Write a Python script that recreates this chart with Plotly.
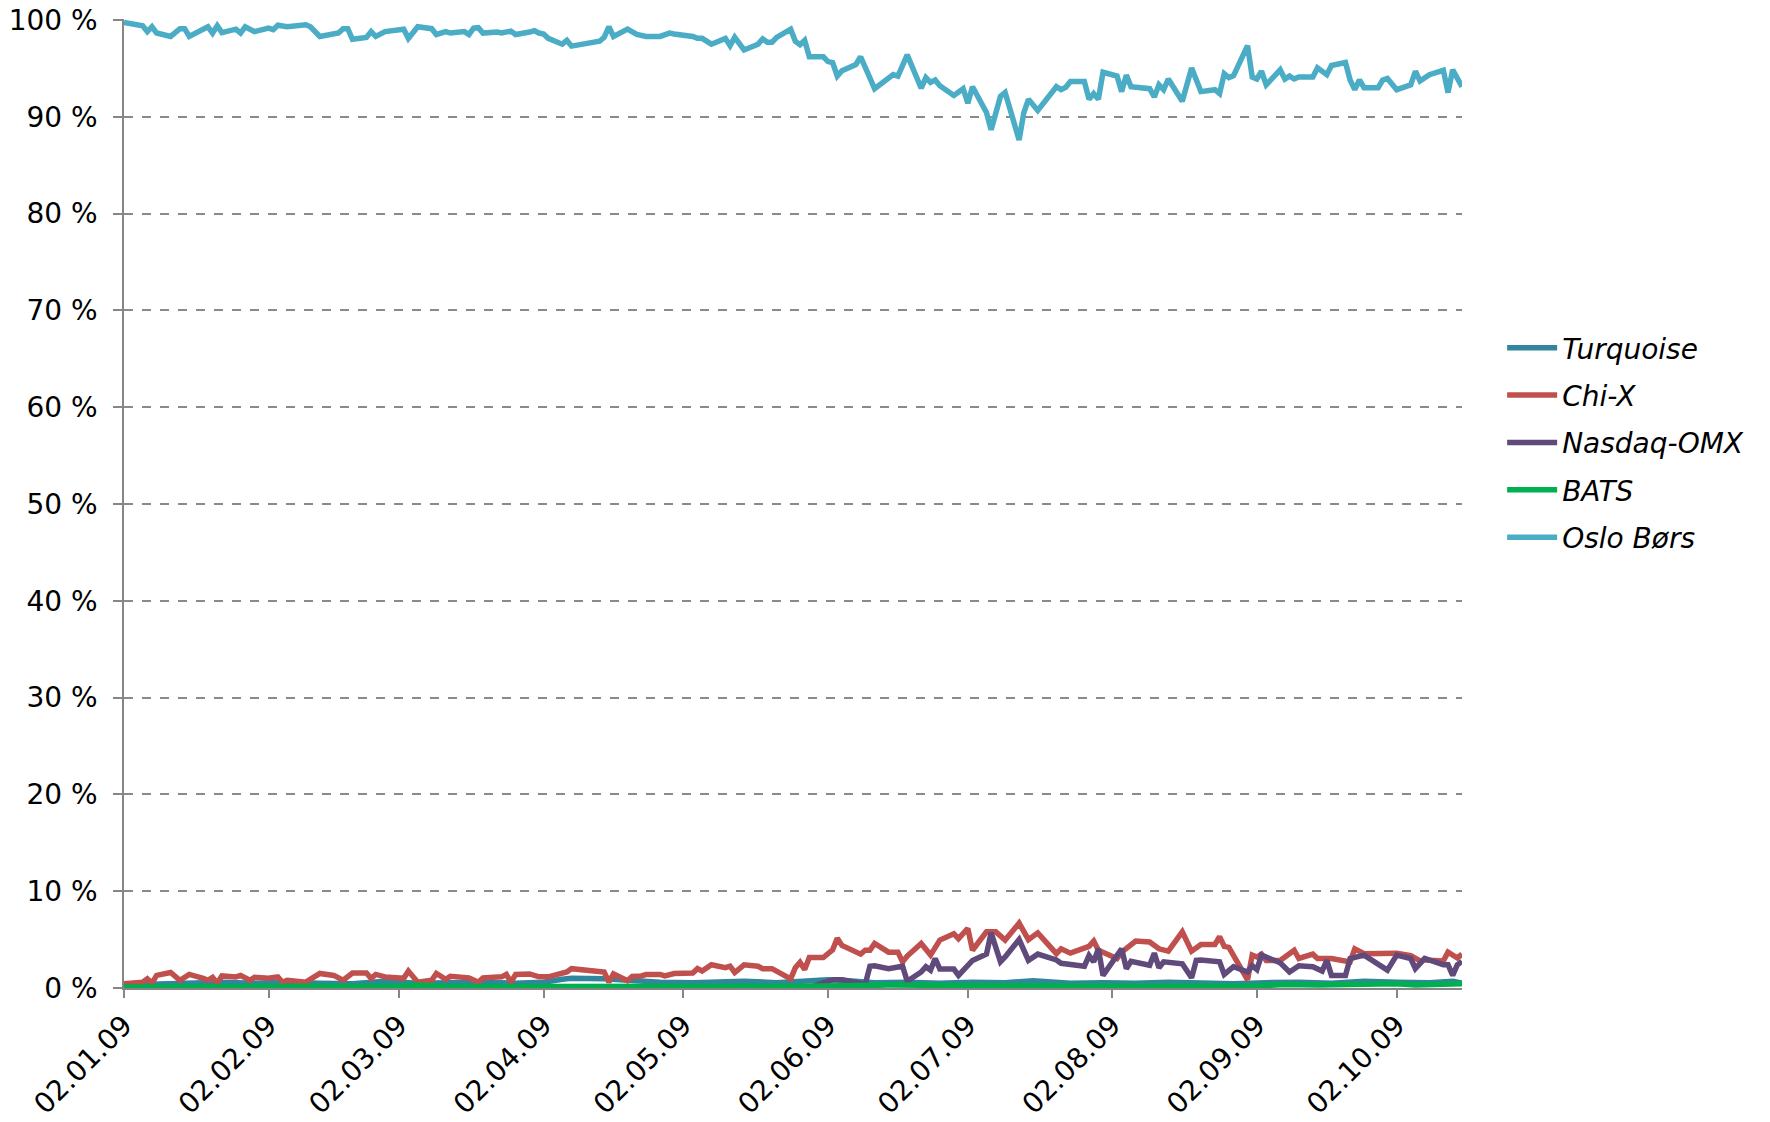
import plotly.graph_objects as go

# ---------------- data (market share, % of turnover) ----------------
oslo_dates = ["2009-01-02","2009-01-06","2009-01-07","2009-01-08","2009-01-09","2009-01-12","2009-01-14","2009-01-15","2009-01-16","2009-01-20",
"2009-01-21","2009-01-22","2009-01-23","2009-01-26","2009-01-27","2009-01-28","2009-01-30","2009-02-02","2009-02-03","2009-02-04",
"2009-02-06","2009-02-10","2009-02-11","2009-02-13","2009-02-17","2009-02-18","2009-02-19","2009-02-20","2009-02-23","2009-02-24",
"2009-02-25","2009-02-27","2009-03-03","2009-03-04","2009-03-06","2009-03-09","2009-03-10","2009-03-12","2009-03-13","2009-03-16",
"2009-03-17","2009-03-18","2009-03-19","2009-03-20","2009-03-23","2009-03-24","2009-03-26","2009-03-27","2009-03-30","2009-03-31",
"2009-04-01","2009-04-02","2009-04-03","2009-04-06","2009-04-07","2009-04-08","2009-04-14","2009-04-15","2009-04-16","2009-04-17",
"2009-04-20","2009-04-21","2009-04-22","2009-04-24","2009-04-27","2009-04-29","2009-04-30","2009-05-04","2009-05-05","2009-05-06",
"2009-05-08","2009-05-11","2009-05-12","2009-05-13","2009-05-15","2009-05-18","2009-05-19","2009-05-20","2009-05-21","2009-05-22",
"2009-05-25","2009-05-26","2009-05-27","2009-05-28","2009-05-29","2009-06-01","2009-06-02","2009-06-03","2009-06-04","2009-06-05",
"2009-06-08","2009-06-09","2009-06-11","2009-06-12","2009-06-16","2009-06-17","2009-06-19","2009-06-22","2009-06-23","2009-06-24",
"2009-06-25","2009-06-26","2009-06-29","2009-07-01","2009-07-02","2009-07-03","2009-07-06","2009-07-07","2009-07-09","2009-07-10",
"2009-07-13","2009-07-14","2009-07-15","2009-07-17","2009-07-21","2009-07-22","2009-07-23","2009-07-24","2009-07-27","2009-07-28",
"2009-07-29","2009-07-30","2009-07-31","2009-08-03","2009-08-04","2009-08-05","2009-08-06","2009-08-10","2009-08-11","2009-08-12",
"2009-08-13","2009-08-14","2009-08-17","2009-08-19","2009-08-21","2009-08-24","2009-08-25","2009-08-26","2009-08-27","2009-08-28",
"2009-08-31","2009-09-01","2009-09-02","2009-09-03","2009-09-04","2009-09-07","2009-09-08","2009-09-09","2009-09-10","2009-09-11",
"2009-09-14","2009-09-15","2009-09-17","2009-09-18","2009-09-21","2009-09-22","2009-09-23","2009-09-24","2009-09-25","2009-09-28",
"2009-09-29","2009-09-30","2009-10-02","2009-10-05","2009-10-06","2009-10-07","2009-10-09","2009-10-12","2009-10-13","2009-10-14",
"2009-10-16"]
oslo_share = [99.75,99.4,98.8,99.3,98.65,98.3,99.1,99.1,98.3,99.3,
98.65,99.4,98.7,99.05,98.65,99.3,98.8,99.15,99.0,99.45,
99.3,99.5,99.3,98.3,98.65,99.1,99.1,98.0,98.2,98.8,
98.3,98.8,99.05,98.1,99.3,99.1,98.5,98.8,98.65,98.8,
98.5,99.15,99.2,98.65,98.75,98.65,98.85,98.5,98.75,98.9,
98.65,98.55,98.1,97.5,97.9,97.3,97.8,98.2,99.3,98.3,
99.05,98.7,98.5,98.3,98.3,98.65,98.55,98.3,98.1,98.1,
97.5,98.1,97.35,98.2,96.9,97.5,98.05,97.7,97.7,98.2,
99.05,97.8,97.45,97.9,96.2,96.2,95.7,95.6,94.2,94.75,
95.4,96.2,94.2,92.9,94.35,94.2,96.4,92.95,94.05,93.55,
93.8,93.2,92.2,92.9,91.4,93.1,90.45,88.65,92.1,92.5,
87.6,90.4,91.8,90.65,93.1,92.8,93.05,93.65,93.65,91.8,
92.4,91.8,94.6,94.2,92.6,94.3,93.1,92.9,92.05,93.3,
92.8,93.9,91.6,95.05,92.6,92.8,92.4,94.45,94.05,94.25,
97.35,94.1,93.9,94.7,93.3,94.85,93.9,94.2,93.9,94.1,
94.1,95.05,94.35,95.3,95.6,93.8,92.8,93.8,93.0,93.0,
93.8,93.95,92.8,93.3,94.7,93.7,94.35,94.8,92.5,94.85,
93.1]

chix_dates = ["2009-01-02","2009-01-06","2009-01-07","2009-01-08","2009-01-09","2009-01-12","2009-01-14","2009-01-16","2009-01-19","2009-01-20",
"2009-01-21","2009-01-22","2009-01-23","2009-01-26","2009-01-27","2009-01-29","2009-01-30","2009-02-02","2009-02-04","2009-02-05",
"2009-02-06","2009-02-10","2009-02-13","2009-02-16","2009-02-18","2009-02-20","2009-02-23","2009-02-24","2009-02-25","2009-02-27",
"2009-03-03","2009-03-04","2009-03-06","2009-03-09","2009-03-10","2009-03-12","2009-03-13","2009-03-16","2009-03-17","2009-03-19",
"2009-03-20","2009-03-24","2009-03-25","2009-03-26","2009-03-27","2009-03-30","2009-04-01","2009-04-03","2009-04-06","2009-04-07",
"2009-04-08","2009-04-15","2009-04-16","2009-04-17","2009-04-20","2009-04-21","2009-04-23","2009-04-24","2009-04-27","2009-04-28",
"2009-04-30","2009-05-04","2009-05-05","2009-05-06","2009-05-08","2009-05-11","2009-05-12","2009-05-13","2009-05-15","2009-05-18",
"2009-05-19","2009-05-21","2009-05-25","2009-05-26","2009-05-27","2009-05-28","2009-05-29","2009-06-01","2009-06-03","2009-06-04",
"2009-06-05","2009-06-09","2009-06-10","2009-06-11","2009-06-12","2009-06-15","2009-06-17","2009-06-18","2009-06-19","2009-06-22",
"2009-06-24","2009-06-25","2009-06-26","2009-06-29","2009-06-30","2009-07-02","2009-07-03","2009-07-06","2009-07-08","2009-07-10",
"2009-07-13","2009-07-15","2009-07-17","2009-07-21","2009-07-22","2009-07-24","2009-07-28","2009-07-29","2009-07-30","2009-08-03",
"2009-08-04","2009-08-07","2009-08-10","2009-08-12","2009-08-14","2009-08-17","2009-08-19","2009-08-21","2009-08-24","2009-08-25",
"2009-08-26","2009-08-27","2009-08-31","2009-09-01","2009-09-02","2009-09-03","2009-09-04","2009-09-07","2009-09-10","2009-09-11",
"2009-09-14","2009-09-15","2009-09-18","2009-09-22","2009-09-23","2009-09-25","2009-09-28","2009-10-02","2009-10-05","2009-10-07",
"2009-10-08","2009-10-12","2009-10-13","2009-10-15","2009-10-16"]
chix_share = [0.45,0.6,0.95,0.5,1.3,1.6,0.8,1.4,1.0,0.8,
1.1,0.5,1.25,1.15,1.3,0.8,1.1,1.0,1.15,0.6,
0.8,0.6,1.5,1.3,0.8,1.55,1.55,1.0,1.4,1.15,
1.0,1.75,0.6,0.8,1.5,0.9,1.2,1.1,1.05,0.6,
1.05,1.15,1.4,0.6,1.4,1.45,1.15,1.15,1.55,1.65,
2.0,1.65,0.6,1.45,0.75,1.2,1.25,1.4,1.4,1.25,
1.5,1.55,2.0,1.75,2.4,2.1,2.25,1.6,2.4,2.25,
2.0,2.0,0.95,2.1,2.65,1.9,3.15,3.15,3.95,5.15,
4.4,3.5,3.9,3.9,4.6,3.7,3.7,2.7,3.3,4.6,
3.4,4.25,4.95,5.6,5.1,6.15,3.9,5.8,5.8,4.95,
6.7,5.0,5.7,3.55,4.05,3.6,4.3,4.85,3.9,3.05,
3.7,4.85,4.75,4.05,3.8,5.8,3.8,4.5,4.5,5.3,
4.3,4.2,0.85,3.4,3.2,3.5,2.85,2.85,3.9,3.05,
3.5,3.05,3.05,2.7,4.05,3.55,3.6,3.6,3.35,2.8,
2.9,2.8,3.7,3.1,3.5]

nasdaq_dates = ["2009-01-02","2009-05-29","2009-06-03","2009-06-05","2009-06-10","2009-06-11","2009-06-12","2009-06-15","2009-06-18","2009-06-19",
"2009-06-22","2009-06-23","2009-06-24","2009-06-25","2009-06-26","2009-06-29","2009-06-30","2009-07-03","2009-07-06","2009-07-07",
"2009-07-09","2009-07-10","2009-07-13","2009-07-15","2009-07-17","2009-07-21","2009-07-22","2009-07-27","2009-07-28","2009-07-29",
"2009-07-30","2009-07-31","2009-08-04","2009-08-05","2009-08-06","2009-08-10","2009-08-11","2009-08-12","2009-08-13","2009-08-17",
"2009-08-19","2009-08-20","2009-08-21","2009-08-25","2009-08-26","2009-08-28","2009-08-31","2009-09-01","2009-09-02","2009-09-03",
"2009-09-07","2009-09-08","2009-09-09","2009-09-11","2009-09-14","2009-09-16","2009-09-17","2009-09-18","2009-09-21","2009-09-22",
"2009-09-25","2009-09-30","2009-10-02","2009-10-05","2009-10-06","2009-10-08","2009-10-12","2009-10-13","2009-10-14","2009-10-15",
"2009-10-16"]
nasdaq_share = [0.05,0.05,0.85,0.85,0.4,2.25,2.3,2.0,2.25,0.7,
1.65,2.2,1.85,3.05,1.95,1.95,1.3,2.85,3.5,5.7,
2.7,3.2,5.0,2.85,3.5,2.9,2.55,2.25,3.35,2.7,
4.05,1.3,4.05,2.0,2.75,2.35,3.6,2.1,2.7,2.5,
1.05,2.85,2.9,2.7,1.4,2.2,1.65,2.3,1.9,3.4,
2.6,2.1,1.65,2.3,2.2,1.75,2.85,1.3,1.3,3.05,
3.4,1.85,3.4,3.05,2.0,3.05,2.4,2.4,1.3,2.4,
2.75]

turq_dates = ["2009-01-02","2009-01-09","2009-01-16","2009-01-23","2009-01-30","2009-02-06","2009-02-13","2009-02-20","2009-02-27","2009-03-06",
"2009-03-13","2009-03-20","2009-03-27","2009-04-02","2009-04-06","2009-04-08","2009-04-15","2009-04-20","2009-04-27","2009-05-04",
"2009-05-08","2009-05-15","2009-05-22","2009-05-29","2009-06-02","2009-06-05","2009-06-12","2009-06-19","2009-06-26","2009-07-03",
"2009-07-10","2009-07-16","2009-07-24","2009-07-31","2009-08-07","2009-08-14","2009-08-21","2009-08-28","2009-09-04","2009-09-11",
"2009-09-18","2009-09-25","2009-10-02","2009-10-09","2009-10-14","2009-10-16"]
turq_share = [0.3,0.4,0.5,0.6,0.5,0.6,0.5,0.45,0.7,0.5,
0.55,0.6,0.5,0.6,0.9,1.0,0.95,0.75,0.6,0.55,
0.6,0.7,0.55,0.8,0.85,0.8,0.55,0.6,0.5,0.6,
0.55,0.75,0.5,0.55,0.5,0.6,0.5,0.45,0.55,0.6,
0.5,0.7,0.6,0.55,0.7,0.5]

bats_dates = ["2009-01-02","2009-02-02","2009-03-02","2009-03-06","2009-03-13","2009-04-01","2009-05-01","2009-06-01","2009-06-15","2009-07-01",
"2009-07-15","2009-08-03","2009-09-01","2009-09-08","2009-09-15","2009-09-25","2009-10-02","2009-10-06","2009-10-16"]
bats_share = [0.1,0.1,0.2,0.3,0.15,0.15,0.15,0.2,0.3,0.25,
0.3,0.2,0.2,0.35,0.3,0.35,0.45,0.3,0.45]

series_names = ["Turquoise", "Chi-X", "Nasdaq-OMX", "BATS", "Oslo Børs"]
series_colors = ["#31859C", "#C0504D", "#604A7B", "#00B050", "#4BACC6"]
series_x = [turq_dates, chix_dates, nasdaq_dates, bats_dates, oslo_dates]
series_y = [turq_share, chix_share, nasdaq_share, bats_share, oslo_share]

y_ticks = list(range(0, 101, 10))
y_tick_text = [f"{v} %" for v in y_ticks]

FONT = "DejaVu Sans, Verdana, sans-serif"
FS = 28

fig = go.Figure()
for i, (name, col, xs, ys) in enumerate(zip(series_names, series_colors, series_x, series_y)):
    fig.add_trace(go.Scatter(
        x=xs, y=ys, name=name, mode="lines",
        line=dict(color=col, width=5.5),
        legendgroup=f"g{i}",
    ))

# the page body adds an 8px offset, so the figure is sized and placed to compensate
fig.update_layout(
    width=1762, height=1114,
    margin=dict(l=116, r=308, t=11, b=134, autoexpand=False),
    paper_bgcolor="white", plot_bgcolor="white",
    font=dict(family=FONT, size=FS, color="#000000"),
    showlegend=True,
    legend=dict(
        x=1.03, y=0.563, xanchor="left", yanchor="middle",
        font=dict(family=FONT, size=FS, color="#000000", style="italic"),
        traceorder="grouped", tracegroupgap=8,
        itemwidth=50,
        bgcolor="rgba(0,0,0,0)",
    ),
    xaxis=dict(
        type="date", automargin=False,
        range=["2009-01-02", "2009-10-16"],
        tick0="2009-01-02", dtick="M1",
        tickformat="%d.%m.%y", tickangle=-45,
        ticks="outside", ticklen=8, tickcolor="#868686", tickwidth=1.5,
        showline=True, linecolor="#868686", linewidth=1.5,
        showgrid=False, zeroline=False,
        ticklabeloverflow="allow",
        tickfont=dict(family=FONT, size=FS, color="#000000"),
    ),
    yaxis=dict(
        range=[0, 100.1], automargin=False,
        tickvals=y_ticks, ticktext=y_tick_text,
        ticks="outside", ticklen=9, tickcolor="#868686", tickwidth=1.5,
        showline=True, linecolor="#868686", linewidth=1.5,
        showgrid=True, gridcolor="#8A8A8A", gridwidth=1.5, griddash="dash",
        zeroline=False,
        ticklabelstandoff=10, ticklabeloverflow="allow",
        tickfont=dict(family=FONT, size=FS, color="#000000"),
    ),
)

fig.write_html("out.html")
